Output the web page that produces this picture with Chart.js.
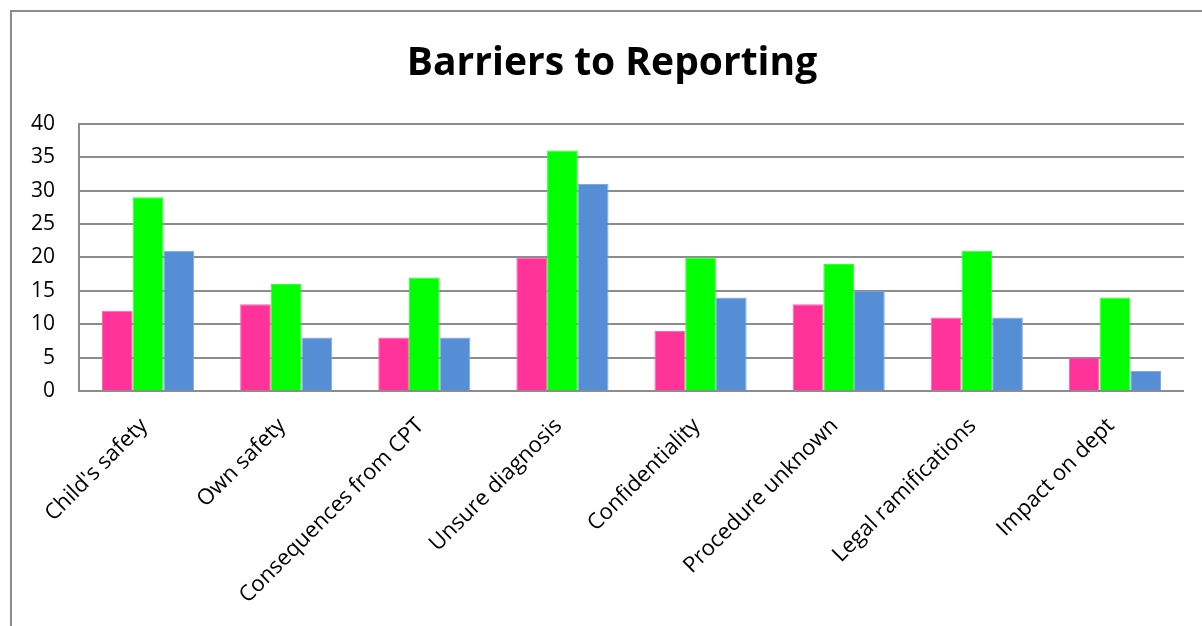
<!DOCTYPE html>
<html>
<head>
<meta charset="utf-8">
<script src="https://cdn.jsdelivr.net/npm/chart.js@4"></script>
<style>
  html, body { margin: 0; padding: 0; background: #fff; overflow: hidden; }
  #frame {
    position: absolute; left: 10px; top: 10px; width: 1200px; height: 700px;
    border: 2px solid #8c8c8c; box-sizing: border-box;
  }
  #wrap { position: absolute; left: 0; top: 0; width: 1202px; height: 626px; }
</style>
</head>
<body>
<div id="frame"></div>
<div id="wrap"><canvas id="barChart"></canvas></div>
<script>
// categories and series
const categories = [
  "Child's safety",
  "Own safety",
  "Consequences from CPT",
  "Unsure diagnosis",
  "Confidentiality",
  "Procedure unknown",
  "Legal ramifications",
  "Impact on dept",
];
const seriesPink = [12, 13, 8, 20, 9, 13, 11, 5];
const seriesGreen = [29, 16, 17, 36, 20, 19, 21, 14];
const seriesBlue = [21, 8, 8, 31, 14, 15, 11, 3];
const yTicks = [0, 5, 10, 15, 20, 25, 30, 35, 40];

const fontFamily = "'Open Sans', Lato, sans-serif";

function makeDataset(label, data, fill, edge) {
  return {
    label: label,
    data: data,
    backgroundColor: fill,
    borderColor: edge,
    borderWidth: 1,
    barPercentage: 1.0,
    categoryPercentage: 0.667,
  };
}

// the y scale box is narrow (so the title centres on the frame); widen it after
// layout so its tick labels are not clipped to the box
const unclipY = {
  id: "unclipY",
  afterLayout(chart) {
    chart.scales.y.left = 0;
  },
};

new Chart(document.getElementById("barChart").getContext("2d"), {
  type: "bar",
  data: {
    labels: categories,
    datasets: [
      makeDataset("Series 1", seriesPink, "#ff3399", "#ff66b3"),
      makeDataset("Series 2", seriesGreen, "#00ff00", "#33ff33"),
      makeDataset("Series 3", seriesBlue, "#558ed5", "#7fa9e0"),
    ],
  },
  plugins: [unclipY],
  options: {
    responsive: true,
    maintainAspectRatio: false,
    animation: false,
    layout: { padding: { left: 40, right: 18, top: 0, bottom: 0 } },
    scales: {
      x: {
        grid: { display: false, drawTicks: false },
        border: { display: false },
        ticks: {
          color: "#000",
          font: { family: fontFamily, size: 22 },
          maxRotation: 45,
          minRotation: 45,
          autoSkip: false,
          padding: 22,
          labelOffset: -4,
        },
        afterFit: (scale) => { scale.height = 235; },
      },
      y: {
        min: 0,
        max: 40,
        afterBuildTicks: (scale) => {
          scale.ticks = yTicks.map((v) => ({ value: v }));
        },
        grid: { color: "#8c8c8c", lineWidth: 2, drawTicks: false },
        border: { display: true, color: "#8c8c8c", width: 2 },
        ticks: {
          color: "#000",
          font: { family: fontFamily, size: 21 },
          padding: 24,
        },
        afterFit: (scale) => { scale.width = 39; },
      },
    },
    plugins: {
      legend: { display: false },
      tooltip: { enabled: false },
      title: {
        display: true,
        text: "Barriers to Reporting",
        color: "#000",
        font: { family: fontFamily, size: 39, weight: "bold" },
        padding: { top: 40, bottom: 37 },
      },
    },
  },
});
</script>
</body>
</html>
